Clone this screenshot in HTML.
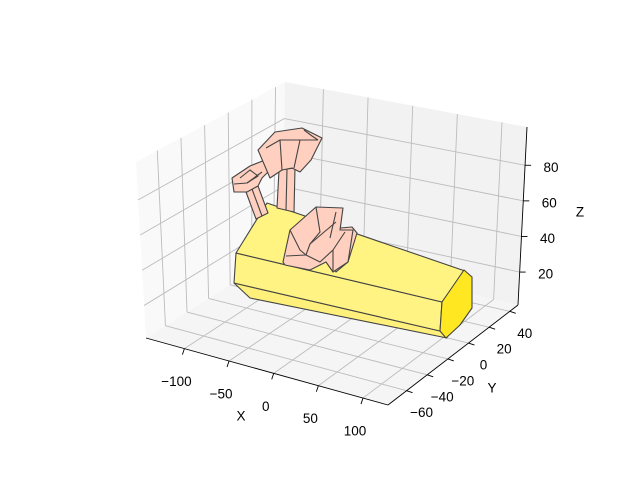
<!DOCTYPE html>
<html><head><meta charset="utf-8"><style>
body{margin:0;background:#fff}
svg{display:block;font-family:"Liberation Sans","DejaVu Sans",sans-serif}
</style></head><body>
<svg id="chart" width="640" height="480" viewBox="0 0 640 480" xmlns="http://www.w3.org/2000/svg">
<g id="panes"></g>
<g id="grid"></g>
<g id="axes"></g>
<g id="mesh" stroke="#444" stroke-width="1.1" stroke-linejoin="round">
  <g>
    <polygon points="234,283 440,331 447,338 250,298" fill="#fff07c"/>
    <polygon points="236,253 442,302 440,331 234,283" fill="#fff383"/>
    <polygon points="267,203 465,271 442,302 236,253" fill="#fff482"/>
    <polygon points="442,302 464,270 472,277 472,308 460,325 446,338 440,331" fill="#ffe822"/>
  </g>
  <g fill="#ffcfbf">
    <polygon points="246,192 258,186 268,213 256,219"/>
    <line x1="252" y1="189" x2="262" y2="216"/>
    <polygon points="232,178 250,166 265,160 270,170 262,178 258,186 247,192 234,192"/>
    <polyline points="234,184 247,183 262,172" fill="none"/>
    <polyline points="240,178 250,170 258,176 247,183" fill="none"/>
  </g>
  <g fill="#ffcfbf">
    <polygon points="279,170 295,168 294,212 277,208"/>
    <line x1="287" y1="169" x2="286" y2="210"/>
    <polygon points="258,150 275,132 302,128 322,138 311,160 300,172 292,168 282,170 270,178"/>
    <polyline points="266,148 280,140 300,140 318,140" fill="none"/>
    <polyline points="280,140 282,170" fill="none"/>
    <polyline points="300,140 294,168" fill="none"/>
    <polyline points="304,130 312,136 318,140" fill="none"/>
  </g>
  <g fill="#ffcfbf">
    <polygon points="340,228 352,227 357,233 348,262 336,272 330,260"/>
    <polygon points="283,262 290,230 316,207 343,208 340,230 353,230 348,262 333,272 326,262 310,270 300,268 285,265"/>
    <polyline points="286,256 306,255 310,244 336,222" fill="none"/>
    <polyline points="290,230 300,250 306,255" fill="none"/>
    <polyline points="316,207 320,232 310,244" fill="none"/>
    <polyline points="306,255 320,262 333,250 345,232" fill="none"/>
    <polyline points="333,250 333,272" fill="none"/>
    <polyline points="336,212 330,238" fill="none"/>
  </g>
</g>
<g id="labels" font-size="13.5" fill="#000"></g>
</svg>
<script>
const xTicks=[-100,-50,0,50,100];
const yTicks=[-60,-40,-20,0,20,40];
const zTicks=[20,40,60,80];
const xTickLabels=["\u2212100","\u221250","0","50","100"];
const yTickLabels=["\u221260","\u221240","\u221220","0","20","40"];
const zTickLabels=["20","40","60","80"];
const xRange=[-143,128], yRange=[-78,48], zRange=[1.5,101.5];
const C={"000":[146,338],"100":[388,405],"110":[518,305],"010":[282,252],
         "001":[136,162],"101":[389,220],"111":[527,127],"011":[285,82]};
function L(a,b,t){return [a[0]+(b[0]-a[0])*t,a[1]+(b[1]-a[1])*t];}
function proj(x,y,z){
  const u=(x-xRange[0])/(xRange[1]-xRange[0]),v=(y-yRange[0])/(yRange[1]-yRange[0]),w=(z-zRange[0])/(zRange[1]-zRange[0]);
  const b0=L(L(C["000"],C["100"],u),L(C["010"],C["110"],u),v);
  const b1=L(L(C["001"],C["101"],u),L(C["011"],C["111"],u),v);
  return L(b0,b1,w);
}
const NS="http://www.w3.org/2000/svg";
function mk(tag,parent,attrs){const e=document.createElementNS(NS,tag);for(const k in attrs)e.setAttribute(k,attrs[k]);document.getElementById(parent).appendChild(e);return e;}
function pts(a){return a.map(p=>p.join(",")).join(" ");}
const X0=xRange[0],X1=xRange[1],Y0=yRange[0],Y1=yRange[1],Z0=zRange[0],Z1=zRange[1];
let p;
p=mk("polygon","panes",{points:pts([proj(X0,Y0,Z0),proj(X0,Y1,Z0),proj(X0,Y1,Z1),proj(X0,Y0,Z1)]),fill:"#f9f9f9"});


p=mk("polygon","panes",{points:pts([proj(X0,Y1,Z0),proj(X1,Y1,Z0),proj(X1,Y1,Z1),proj(X0,Y1,Z1)]),fill:"#f2f2f2"});


p=mk("polygon","panes",{points:pts([proj(X0,Y0,Z0),proj(X1,Y0,Z0),proj(X1,Y1,Z0),proj(X0,Y1,Z0)]),fill:"#f5f5f5"});


function gl(a,b){const g=mk("line","grid",{x1:a[0],y1:a[1],x2:b[0],y2:b[1],stroke:"#bcbcbc","stroke-width":0.9});

}
xTicks.forEach(x=>{gl(proj(x,Y0,Z0),proj(x,Y1,Z0));gl(proj(x,Y1,Z0),proj(x,Y1,Z1));});
yTicks.forEach(y=>{gl(proj(X1,y,Z0),proj(X0,y,Z0));gl(proj(X0,y,Z0),proj(X0,y,Z1));});
zTicks.forEach(z=>{gl(proj(X0,Y0,z),proj(X0,Y1,z));gl(proj(X0,Y1,z),proj(X1,Y1,z));});
function al(a,b,name){const l=mk("line","axes",{x1:a[0],y1:a[1],x2:b[0],y2:b[1],stroke:"#000","stroke-width":0.9});

}
al(proj(X0,Y0,Z0),proj(X1,Y0,Z0),'x-axis-line');
al(proj(X1,Y0,Z0),proj(X1,Y1,Z0),'y-axis-line');
al(proj(X1,Y1,Z0),proj(X1,Y1,Z1),'z-axis-line');
function txt(x,y,s,name,size){const t=mk("text","labels",{x:x,y:y,"text-anchor":"middle","dominant-baseline":"central"});if(size)t.setAttribute("font-size",size);t.textContent=s;

}
xTicks.forEach((x,i)=>{const a=proj(x,Y0,Z0);al(a,[a[0]-2,a[1]+6],'x-tick');txt(a[0]-8,a[1]+33,xTickLabels[i],'x-tick-label');});
yTicks.forEach((y,i)=>{const a=proj(X1,y,Z0);al(a,[a[0]+6,a[1]+2],'y-tick');txt(a[0]+15,a[1]+22,yTickLabels[i],'y-tick-label');});
zTicks.forEach((z,i)=>{const a=proj(X1,Y1,z);al(a,[a[0]+6,a[1]],'z-tick');txt(a[0]+26,a[1]+2,zTickLabels[i],'z-tick-label');});
txt(241,416,"X",'x-axis-title');
txt(492,388,"Y",'y-axis-title');
txt(580,212,"Z",'z-axis-title');
</script>
</body></html>
